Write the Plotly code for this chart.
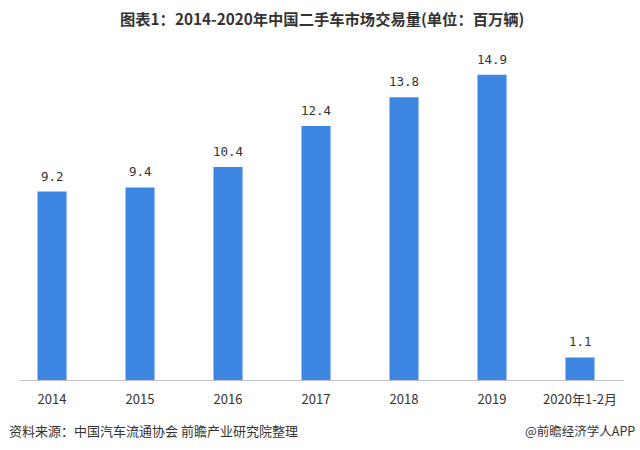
import plotly.graph_objects as go

categories = ["2014", "2015", "2016", "2017", "2018", "2019", "2020年1-2月"]
values = [9.2, 9.4, 10.4, 12.4, 13.8, 14.9, 1.1]

title_text = "图表1：2014-2020年中国二手车市场交易量(单位：百万辆)"
source_text = "资料来源：中国汽车流通协会 前瞻产业研究院整理"
credit_text = "@前瞻经济学人APP"

font_family = "Noto Sans CJK SC, Noto Sans, sans-serif"

xs = list(range(len(categories)))

fig = go.Figure(go.Bar(
    x=xs,
    y=values,
    marker=dict(color="#3C86E1", line=dict(width=0)),
    width=0.33,
))

annotations = [
    dict(x=x, y=v, text=f"{v:.1f}", xref="x", yref="y", xanchor="center",
         yanchor="bottom", yshift=6, showarrow=False,
         font=dict(size=12.5, color="#333333", family="DejaVu Sans Mono, monospace"))
    for x, v in zip(xs, values)
]

annotations += [
    dict(text="<b>" + title_text + "</b>", xref="paper", yref="paper",
         x=0.5, y=1, xanchor="center", yanchor="bottom",
         yshift=11, xshift=0, showarrow=False,
         font=dict(size=15.3, color="#333333", family=font_family)),
    dict(text=source_text, xref="paper", yref="paper",
         x=0, y=0, xanchor="left", yanchor="top",
         xshift=-13, yshift=-39, showarrow=False,
         font=dict(size=13, color="#333333", family=font_family)),
    dict(text=credit_text, xref="paper", yref="paper",
         x=1, y=0, xanchor="right", yanchor="top",
         xshift=13, yshift=-39, showarrow=False,
         font=dict(size=12.5, color="#333333", family=font_family)),
]

fig.update_layout(
    width=640, height=450,
    margin=dict(l=20, r=16, t=42, b=70),
    paper_bgcolor="white", plot_bgcolor="white",
    showlegend=False,
    font=dict(family=font_family, color="#333333"),
    xaxis=dict(
        tickmode="array",
        tickvals=xs,
        ticktext=categories,
        range=[-0.364, 6.5],
        showline=True, linecolor="#bfbfbf", linewidth=1,
        showgrid=False, ticks="",
        ticklabelstandoff=7,
        tickfont=dict(size=13, color="#333333"),
        zeroline=False,
    ),
    yaxis=dict(
        range=[0, 16.5],
        visible=False,
        showgrid=False,
        zeroline=False,
    ),
    annotations=annotations,
)

fig.write_html("out.html")
